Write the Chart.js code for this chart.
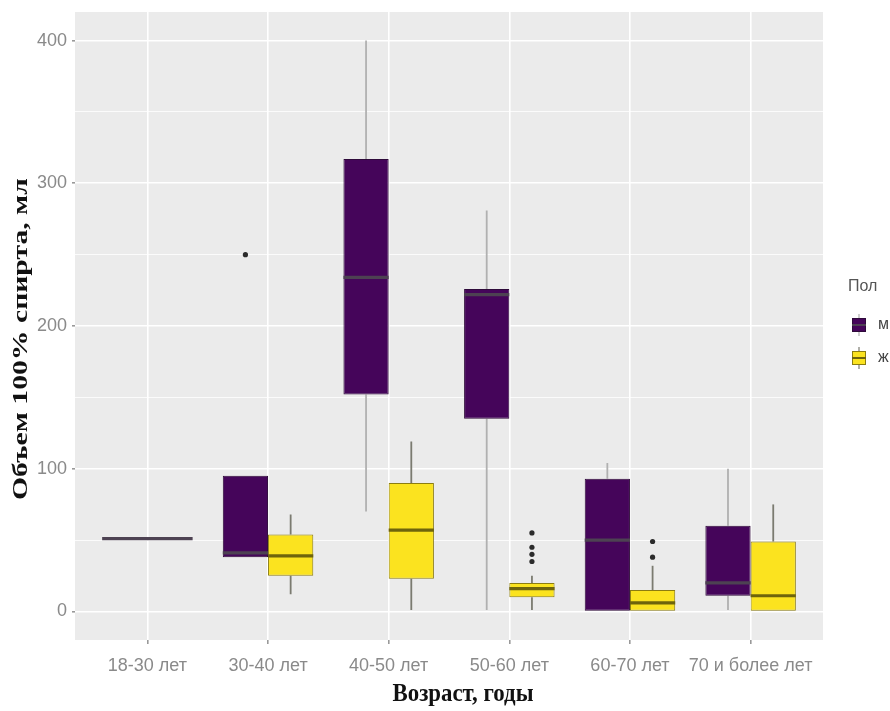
<!DOCTYPE html>
<html>
<head>
<meta charset="utf-8">
<script src="https://cdn.jsdelivr.net/npm/chart.js@4.4.0/dist/chart.umd.min.js"></script>
<style>
    html, body { margin: 0; padding: 0; background: #fff; }
    #wrap { width: 890px; height: 711px; }
</style>
</head>
<body>
<div id="wrap"><canvas id="box-chart" width="890" height="711"></canvas></div>
<script>
const ageGroups = ['18-30 лет', '30-40 лет', '40-50 лет', '50-60 лет', '60-70 лет', '70 и более лет'];

// м
const maleLow = [51, 38, 70, 1, 0, 1];
const maleQ1 = [51, 38, 152, 135, 0, 11];
const maleMedian = [51, 41, 234, 222, 50, 20];
const maleQ3 = [51, 95, 317, 226, 93, 60];
const maleHigh = [51, 95, 400, 281, 104, 100];
const maleOutliers = [[], [250], [], [], [], []];

// ж
const femaleLow = [null, 12, 1, 1, 0, 0];
const femaleQ1 = [null, 25, 23, 10, 0, 0];
const femaleMedian = [null, 39, 57, 16, 6, 11];
const femaleQ3 = [null, 54, 90, 20, 15, 49];
const femaleHigh = [null, 68, 119, 25, 32, 75];
const femaleOutliers = [[], [], [], [55, 45, 40, 35], [49, 38], []];

const yTicks = [0, 50, 100, 150, 200, 250, 300, 350, 400];

function boxData(low, q1, med, q3, high, out) {
    return q1.map((v, i) => {
        if (v === null) return { x: i, y: null };
        return { x: i, y: [q1[i], q3[i]], low: low[i], med: med[i], high: high[i], out: out[i] };
    });
}

const tickFont = "'Liberation Sans', Arial, sans-serif";

function drawFitted(ctx, text, cx, cy, len, squash, angle, font, color) {
    ctx.save();
    ctx.font = font;
    ctx.fillStyle = color;
    ctx.textAlign = 'center';
    ctx.textBaseline = 'middle';
    const w = ctx.measureText(text).width;
    ctx.translate(cx, cy);
    ctx.rotate(angle);
    ctx.scale(len / w, squash);
    ctx.fillText(text, 0, 0);
    ctx.restore();
}

const boxParts = {
    id: 'boxParts',
    beforeDraw(chart) {
        const { ctx, chartArea: a } = chart;
        ctx.save();
        ctx.fillStyle = '#EBEBEB';
        ctx.fillRect(a.left, a.top, a.right - a.left, a.bottom - a.top);
        ctx.restore();
    },
    beforeDatasetsDraw(chart) {
        const { ctx } = chart;
        const y = chart.scales.y;
        chart.data.datasets.forEach((ds, d) => {
            const meta = chart.getDatasetMeta(d);
            ds.data.forEach((pt, i) => {
                if (pt.y === null) return;
                const el = meta.data[i];
                ctx.save();
                ctx.strokeStyle = ds.whiskerColor;
                ctx.lineWidth = 1.8;
                ctx.beginPath();
                ctx.moveTo(el.x, y.getPixelForValue(pt.low));
                ctx.lineTo(el.x, y.getPixelForValue(pt.y[0]));
                ctx.moveTo(el.x, y.getPixelForValue(pt.y[1]));
                ctx.lineTo(el.x, y.getPixelForValue(pt.high));
                ctx.stroke();
                ctx.restore();
            });
        });
    },
    afterDatasetsDraw(chart) {
        const { ctx } = chart;
        const y = chart.scales.y;
        chart.data.datasets.forEach((ds, d) => {
            const meta = chart.getDatasetMeta(d);
            ds.data.forEach((pt, i) => {
                if (pt.y === null) return;
                const el = meta.data[i];
                const half = el.width / 2;
                ctx.save();
                ctx.strokeStyle = ds.medianColor;
                ctx.lineWidth = 3.2;
                ctx.beginPath();
                const my = y.getPixelForValue(pt.med);
                ctx.moveTo(el.x - half, my);
                ctx.lineTo(el.x + half, my);
                ctx.stroke();
                ctx.fillStyle = '#2b2b2b';
                pt.out.forEach(v => {
                    ctx.beginPath();
                    ctx.arc(el.x, y.getPixelForValue(v), 2.6, 0, Math.PI * 2);
                    ctx.fill();
                });
                ctx.restore();
            });
        });
    },
    afterDraw(chart) {
        const { ctx } = chart;
        drawFitted(ctx, 'Объем 100% спирта, мл', 22, 339, 322, 0.95, -Math.PI / 2,
            "bold 22px 'Liberation Serif', serif", '#111');
        drawFitted(ctx, 'Возраст, годы', 463, 694, 141, 1, 0,
            "bold 26px 'Liberation Serif', serif", '#111');

        // legend
        ctx.save();
        ctx.font = '16px ' + tickFont;
        ctx.fillStyle = '#555';
        ctx.textBaseline = 'middle';
        ctx.fillText('Пол', 848, 287);
        chart.data.datasets.forEach((ds, d) => {
            const top = 318 + d * 33;
            ctx.strokeStyle = ds.whiskerColor;
            ctx.lineWidth = 1.2;
            ctx.beginPath();
            ctx.moveTo(859, top - 4);
            ctx.lineTo(859, top + 18);
            ctx.stroke();
            ctx.fillStyle = ds.backgroundColor;
            ctx.fillRect(852, top, 14, 14);
            ctx.strokeStyle = ds.borderColor;
            ctx.lineWidth = 1;
            ctx.strokeRect(852.5, top + 0.5, 13, 13);
            ctx.strokeStyle = ds.medianColor;
            ctx.lineWidth = 2;
            ctx.beginPath();
            ctx.moveTo(852, top + 7);
            ctx.lineTo(866, top + 7);
            ctx.stroke();
            ctx.fillStyle = '#444';
            ctx.fillText(ds.label, 878, top + 7);
        });
        ctx.restore();
    }
};

const ctx = document.getElementById('box-chart').getContext('2d');
const boxChart = new Chart(ctx, {
    type: 'bar',
    data: {
        datasets: [
            {
                label: 'м',
                data: boxData(maleLow, maleQ1, maleMedian, maleQ3, maleHigh, maleOutliers),
                backgroundColor: '#45055A',
                borderColor: '#2e0a3a',
                whiskerColor: '#b0b0b0',
                medianColor: '#4d4252',
                borderWidth: 1,
                borderSkipped: false,
            },
            {
                label: 'ж',
                data: boxData(femaleLow, femaleQ1, femaleMedian, femaleQ3, femaleHigh, femaleOutliers),
                backgroundColor: '#FBE31F',
                borderColor: '#8c7d10',
                whiskerColor: '#7b7b70',
                medianColor: '#6e640c',
                borderWidth: 1,
                borderSkipped: false,
            },
        ],
    },
    options: {
        responsive: false,
        animation: false,
        devicePixelRatio: 1,
        categoryPercentage: 0.75,
        barPercentage: 1,
        skipNull: true,
        layout: { padding: { top: 12, right: 67, left: 0, bottom: 0 } },
        plugins: {
            legend: { display: false },
            tooltip: { enabled: false },
        },
        scales: {
            x: {
                type: 'linear',
                offset: false,
                min: -0.6,
                max: 5.6,
                afterBuildTicks: s => { s.ticks = ageGroups.map((_, i) => ({ value: i })); },
                afterFit: s => { s.height = 71; s.paddingLeft = 0; s.paddingRight = 0; },
                grid: { offset: false, color: '#ffffff', lineWidth: 1.6, tickLength: 4, tickColor: '#999' },
                border: { display: false },
                ticks: {
                    autoSkip: false,
                    maxRotation: 0,
                    padding: 11,
                    color: '#8a8a8a',
                    font: { family: tickFont, size: 18 },
                    callback: v => ageGroups[v],
                },
            },
            y: {
                min: -20,
                max: 420,
                afterBuildTicks: s => { s.ticks = yTicks.map(v => ({ value: v })); },
                afterFit: s => { s.width = 75; s.paddingTop = 0; s.paddingBottom = 0; },
                grid: {
                    color: '#ffffff',
                    lineWidth: c => (c.tick && c.tick.value % 100 === 0 ? 1.6 : 0.8),
                    tickLength: 3,
                    tickColor: c => (c.tick && c.tick.value % 100 === 0 ? '#999' : 'rgba(0,0,0,0)'),
                },
                border: { display: false },
                ticks: {
                    padding: 5,
                    color: '#8a8a8a',
                    font: { family: tickFont, size: 18 },
                    callback: v => (v % 100 === 0 ? v : ''),
                },
            },
        },
    },
    plugins: [boxParts],
});
</script>
</body>
</html>
